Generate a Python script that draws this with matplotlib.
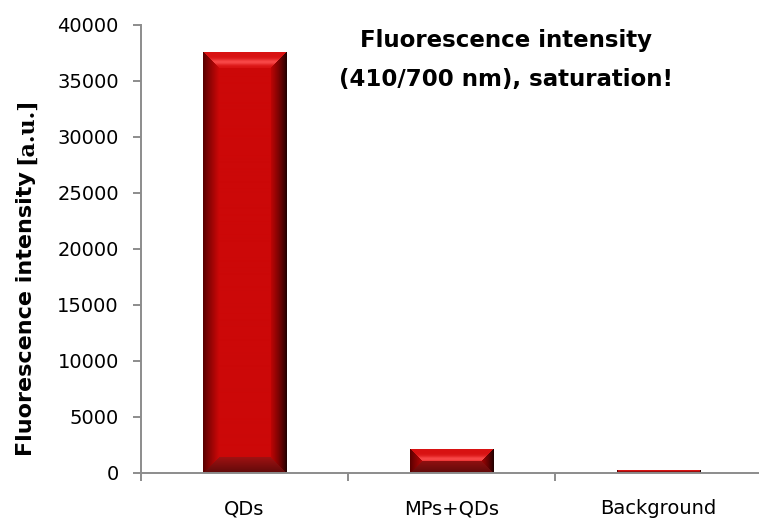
import numpy as np
import matplotlib
matplotlib.use("Agg")
import matplotlib.pyplot as plt

# fluorescence readings, 410 nm excitation / 700 nm emission
samples = ["QDs", "MPs+QDs", "Background"]
intensity = [37500, 2100, 180]
y_ticks = [0, 5000, 10000, 15000, 20000, 25000, 30000, 35000, 40000]

FACE = np.array([204, 8, 8]) / 255.0
AXIS_GRAY = "#8c8c8c"


def rgb(r, g, b):
    return np.array([r, g, b]) / 255.0


def bevel_rgb(w, h, b=16.0):
    """Excel-style bevelled bar face, w x h pixels."""
    yy, xx = np.mgrid[0:h, 0:w] + 0.5
    dists = np.stack([xx, w - xx, yy, h - yy])  # left, right, top, bottom
    side = dists.argmin(0)
    d = dists.min(0)
    t = np.clip(d / b, 0, 1)
    img = np.broadcast_to(FACE, (h, w, 3)).copy()

    # left edge: dark to face
    m = (side == 0) & (d < b)
    tt = t[m][:, None] ** 0.9
    img[m] = rgb(85, 0, 0) + (FACE - rgb(85, 0, 0)) * tt
    # right edge: almost black at the rim
    m = (side == 1) & (d < b)
    tt = t[m][:, None] ** 0.8
    img[m] = rgb(25, 0, 0) + (rgb(190, 5, 5) - rgb(25, 0, 0)) * tt
    # top bevel: lighter band with a highlight stripe
    m = (side == 2) & (d < b)
    tt = t[m]
    glow = np.exp(-((tt - 0.62) / 0.18) ** 2)[:, None]
    img[m] = rgb(216, 18, 18) + glow * (rgb(248, 72, 72) - rgb(216, 18, 18))
    # bottom bevel: dark band
    m = (side == 3) & (d < b)
    tt = t[m][:, None]
    img[m] = rgb(95, 10, 10) + (rgb(160, 18, 18) - rgb(95, 10, 10)) * tt
    return np.clip(img, 0, 1)


fig = plt.figure(figsize=(7.59, 5.25), dpi=100)
ax = fig.add_axes([141 / 759, 52 / 525, 621 / 759, 448 / 525])

x = np.arange(len(samples))
bars = ax.bar(x, intensity, width=0.405, color=FACE, edgecolor="none", zorder=2)

ax.set_xlim(-0.5, len(samples) - 0.5)
ax.set_ylim(0, 40000)

# shaded face on top of each bar
fig.canvas.draw()
for bar in bars:
    x0, w, h = bar.get_x(), bar.get_width(), bar.get_height()
    (px0, py0), (px1, py1) = ax.transData.transform([(x0, 0), (x0 + w, h)])
    wp = max(int(round(px1 - px0)), 1)
    hp = max(int(round(py1 - py0)), 1)
    ax.imshow(bevel_rgb(wp, hp), extent=[x0, x0 + w, 0, h], aspect="auto",
              interpolation="bilinear", zorder=3)
ax.set_xlim(-0.5, len(samples) - 0.5)
ax.set_ylim(0, 40000)

for s in ["top", "right"]:
    ax.spines[s].set_visible(False)
for s in ["left", "bottom"]:
    ax.spines[s].set_color(AXIS_GRAY)
    ax.spines[s].set_linewidth(1.4)
    ax.spines[s].set_zorder(4)

ax.set_yticks(y_ticks)
ax.set_yticklabels([str(v) for v in y_ticks])
ax.set_xticks(x)
ax.set_xticklabels(samples)
ax.set_xticks(np.arange(len(samples)) - 0.5, minor=True)
ax.tick_params(axis="x", which="major", length=0, pad=19, labelsize=14)
ax.tick_params(axis="x", which="minor", length=6, width=1.4, color=AXIS_GRAY)
ax.tick_params(axis="y", length=6, width=1.4, color=AXIS_GRAY, pad=10, labelsize=14)

# y label: sans part plus serif unit
lab = fig.text(26 / 759, 1 - 310 / 525, "Fluorescence intensity ", rotation=90,
               ha="center", va="center", fontsize=16, fontweight="bold")
fig.canvas.draw()
ax.annotate("[a.u.]", xy=(0.5, 1), xycoords=lab, ha="center", va="bottom",
            rotation=90, fontsize=16, fontweight="bold", family="DejaVu Serif")

ax.text(0.588, 0.99, "Fluorescence intensity\n(410/700 nm), saturation!",
        transform=ax.transAxes, ha="center", va="top", fontsize=16.5,
        fontweight="bold", linespacing=1.85)

fig.savefig("out.png", dpi=100)
